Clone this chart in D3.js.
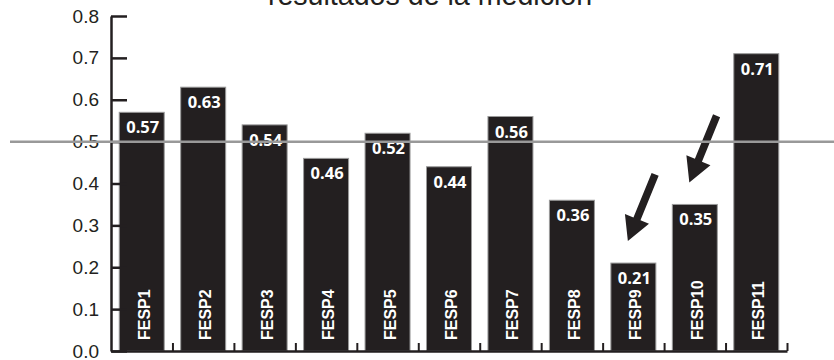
<!DOCTYPE html>
<html><head><meta charset="utf-8">
<script src="https://cdn.jsdelivr.net/npm/d3@7"></script>
<style>html,body{margin:0;padding:0;background:#fff;overflow:hidden}</style>
</head><body>
<svg id="chart" width="834" height="360"></svg>
<script>
const categories = ["FESP1","FESP2","FESP3","FESP4","FESP5","FESP6","FESP7","FESP8","FESP9","FESP10","FESP11"];
const values = [0.57,0.63,0.54,0.46,0.52,0.44,0.56,0.36,0.21,0.35,0.71];
const yTicks = [0,0.1,0.2,0.3,0.4,0.5,0.6,0.7,0.8];
const referenceValue = 0.5;
const arrowTargets = ["FESP9","FESP10"];
const title = "resultados de la medición";

(function () {
const ink = "#231f20";
const svg = d3.select("#chart");
const mLeft = 111, mRight = 787, mTop = 16, mBottom = 351;

const x = d3.scaleBand().domain(categories).range([mLeft, mRight]).paddingInner(0.268).paddingOuter(0.134);
const y = d3.scaleLinear().domain([0, 0.8]).range([mBottom, mTop]);
const xb = d3.scaleLinear().domain([0, categories.length]).range([mLeft, mRight]);

// title
svg.append("text").attr("x", 430).attr("y", 5).attr("text-anchor", "middle")
  .attr("font-family", "Liberation Sans, Arial, sans-serif").attr("font-size", 28.6)
  .attr("fill", ink).text(title);

// bars
const data = categories.map((c, i) => ({c, v: values[i]}));
svg.append("g").selectAll("rect").data(data).join("rect")
  .attr("x", d => x(d.c)).attr("y", d => y(d.v))
  .attr("width", x.bandwidth()).attr("height", d => y(0) - y(d.v))
  .attr("fill", ink).attr("stroke", "#9a9a9a").attr("stroke-width", 1);

// value labels
svg.append("g").selectAll("text").data(data).join("text")
  .attr("x", d => x(d.c) + x.bandwidth() / 2 + 1)
  .attr("y", d => y(d.v) + 21)
  .attr("text-anchor", "middle")
  .attr("font-family", "Open Sans, sans-serif").attr("font-weight", 700).attr("font-size", 16.5)
  .attr("fill", "#fff").text(d => d.v.toFixed(2));

// category labels (rotated)
svg.append("g").selectAll("text").data(data).join("text")
  .attr("transform", d => `translate(${x(d.c) + x.bandwidth() / 2 + 8},340) rotate(-90)`)
  .attr("font-family", "Liberation Sans, Arial, sans-serif").attr("font-weight", 700).attr("font-size", 16)
  .attr("fill", "#fff").text(d => d.c);

// y axis
const yAxis = svg.append("g").attr("transform", `translate(${mLeft},0)`)
  .call(d3.axisLeft(y).tickValues(yTicks).tickFormat(d3.format(".1f")).tickSizeInner(-16).tickSizeOuter(0).tickPadding(12));
yAxis.select(".domain").attr("stroke", ink).attr("stroke-width", 2.5);
yAxis.selectAll(".tick line").attr("stroke", ink).attr("stroke-width", 2.5);
yAxis.selectAll(".tick text").attr("font-family", "Liberation Sans, Arial, sans-serif").attr("font-size", 19).attr("fill", ink);

// x axis
const xAxis = svg.append("g").attr("transform", `translate(0,${mBottom})`)
  .call(d3.axisBottom(xb).tickValues(d3.range(1, categories.length + 1)).tickFormat("").tickSizeInner(-8).tickSizeOuter(0));
xAxis.select(".domain").attr("stroke", ink).attr("stroke-width", 2.5);
xAxis.selectAll(".tick line").attr("stroke", ink).attr("stroke-width", 2);

// arrows
const dir = [-27, 66], L = Math.hypot(dir[0], dir[1]);
const ux = dir[0] / L, uy = dir[1] / L, px = -uy, py = ux;
const arrowLen = 72, headLen = 24, headW = 13, shaftW = 3.8;
function arrowPath(tipX, tipY) {
  const sx = tipX - ux * arrowLen, sy = tipY - uy * arrowLen;
  const bx = tipX - ux * headLen, by = tipY - uy * headLen;
  const pts = [
    [sx + px * shaftW, sy + py * shaftW],
    [bx + px * shaftW, by + py * shaftW],
    [bx + px * headW, by + py * headW],
    [tipX, tipY],
    [bx - px * headW, by - py * headW],
    [bx - px * shaftW, by - py * shaftW],
    [sx - px * shaftW, sy - py * shaftW]
  ];
  return d3.line()(pts) + "Z";
}
svg.append("g").selectAll("path").data(arrowTargets).join("path")
  .attr("d", c => arrowPath(x(c) + 17, y(values[categories.indexOf(c)]) - 22))
  .attr("fill", ink);

// reference line
svg.append("line").attr("x1", 10).attr("x2", 834)
  .attr("y1", y(referenceValue)).attr("y2", y(referenceValue))
  .attr("stroke", "#999").attr("stroke-width", 2.5);
})();
</script>
</body></html>
